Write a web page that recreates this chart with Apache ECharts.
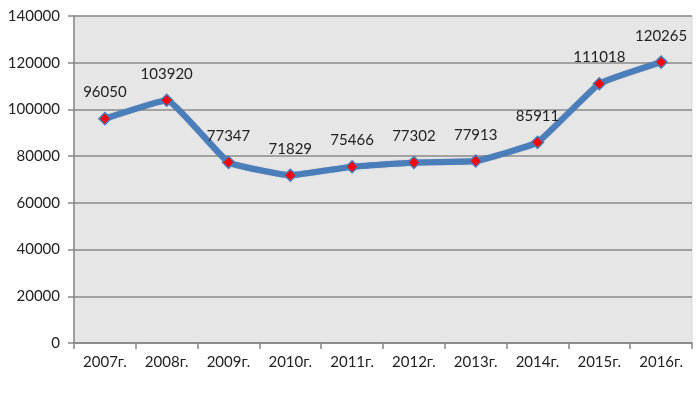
<!DOCTYPE html>
<html><head><meta charset="utf-8">
<script src="https://cdn.jsdelivr.net/npm/echarts@6/dist/echarts.min.js"></script>
<style>html,body{margin:0;padding:0;background:#fff}#c{width:700px;height:397px}</style>
</head><body><div id="c"></div>
<script>
const categories = ['2007г.','2008г.','2009г.','2010г.','2011г.','2012г.','2013г.','2014г.','2015г.','2016г.'];
const values = [96050,103920,77347,71829,75466,77302,77913,85911,111018,120265];
const yTicks = {min:0,max:140000,interval:20000};

const chart = echarts.init(document.getElementById('c'));
const font = 'Lato, "Open Sans", sans-serif';
chart.setOption({
  animation:false,
  grid:{left:74,right:8,top:16,bottom:54,show:true,backgroundColor:'#e6e6e6',borderColor:'#d8d8d8',borderWidth:1},
  xAxis:{type:'category',data:categories,boundaryGap:true,
    axisLine:{lineStyle:{color:'#868686',width:1.5}},
    axisTick:{show:true,length:6,lineStyle:{color:'#868686',width:1.5}},
    axisLabel:{color:'#222',fontSize:15,fontFamily:font,margin:12}},
  yAxis:{type:'value',min:yTicks.min,max:yTicks.max,interval:yTicks.interval,
    axisLine:{show:true,lineStyle:{color:'#868686',width:1.5}},
    axisTick:{show:true,length:6,inside:false,lineStyle:{color:'#868686',width:1.5}},
    splitLine:{lineStyle:{color:'#8a8a8a',width:1.5}},
    axisLabel:{color:'#222',fontSize:15,fontFamily:font,margin:14,formatter:v=>String(v)}},
  series:[{type:'line',data:values,smooth:0.1,
    lineStyle:{color:'#4a7ebb',width:6,shadowColor:'rgba(40,70,120,0.5)',shadowBlur:1},
    symbol:'diamond',symbolSize:12,
    itemStyle:{color:'#ff0000',borderColor:'#4a7ebb',borderWidth:1.5},
    label:{show:true,position:'top',distance:12,color:'#222',fontSize:15,fontFamily:font}}]
});
</script></body></html>
